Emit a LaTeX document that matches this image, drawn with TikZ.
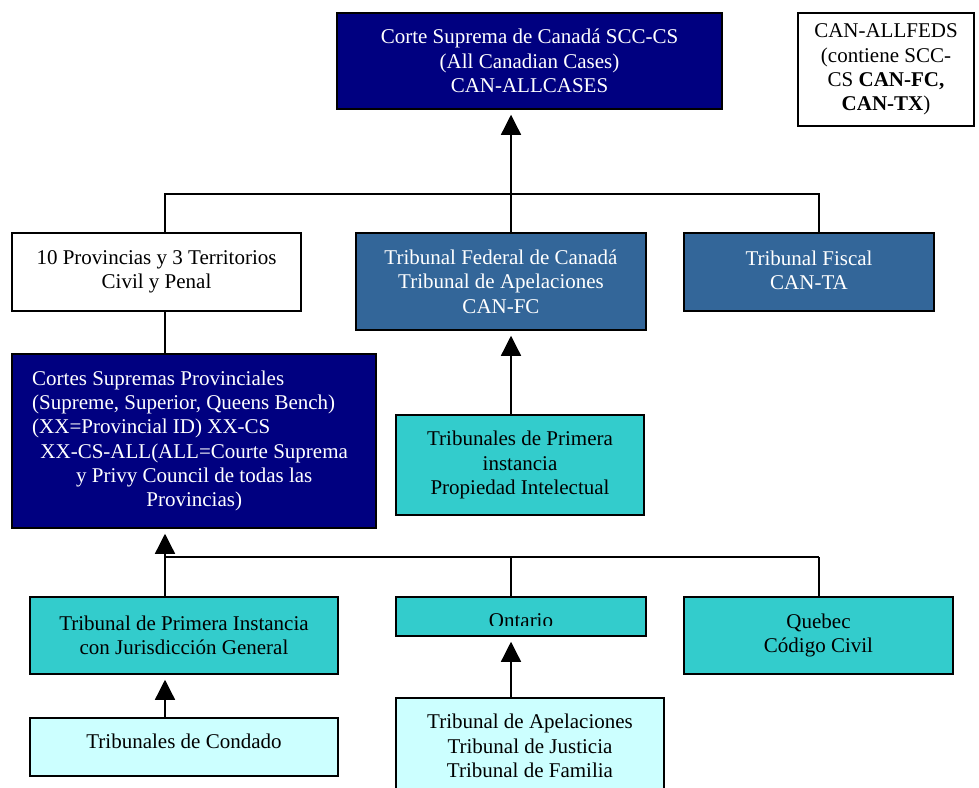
\documentclass[tikz,border=0pt]{standalone}
\usepackage{fontspec}
\setmainfont{Liberation Serif}
\usetikzlibrary{arrows.meta}
\definecolor{navyb}{HTML}{000080}
\definecolor{steelb}{HTML}{336699}
\definecolor{turq}{HTML}{33CCCC}
\definecolor{lcyan}{HTML}{CCFFFF}
\begin{document}
\begin{tikzpicture}[x=1pt,y=-1pt,
  boxst/.style={draw=black,line width=1.5pt,inner sep=0pt,align=center,
    font=\fontsize{21}{24.3}\selectfont},
  txtst/.style={inner sep=0pt,font=\fontsize{21}{24.3}\selectfont},
  conn/.style={line width=1.3pt},
  arr/.style={conn,-{Triangle[width=20pt,length=20pt]},shorten >=5pt}]
\useasboundingbox (0,0) rectangle (979,787);
\fill[white] (0,0) rectangle (979,787);
% boxes
\node[boxst,fill=navyb,text=white,minimum width=385pt,minimum height=96pt] (top) at (529.5,61)
  {Corte Suprema de Canadá SCC-CS\\(All Canadian Cases)\\CAN-ALLCASES};
\node[boxst,fill=white,minimum width=176pt,minimum height=113pt] (allfeds) at (886,69.5)
  {CAN-ALLFEDS\\(contiene SCC-\\CS \textbf{CAN-FC,}\\\textbf{CAN-TX})};
\node[boxst,fill=white,minimum width=289pt,minimum height=78pt] (prov) at (156.5,272)
  {10 Provincias y 3 Territorios\\Civil y Penal};
\node[boxst,fill=steelb,text=white,minimum width=290pt,minimum height=97pt] (tfed) at (501,281.5)
  {Tribunal Federal de Canadá\\Tribunal de Apelaciones\\CAN-FC};
\node[boxst,fill=steelb,text=white,minimum width=250pt,minimum height=78pt] (tfis) at (809,272)
  {\raisebox{2pt}[\height][\depth]{Tribunal Fiscal}\\\raisebox{2pt}[\height][\depth]{CAN-TA}};
\node[boxst,fill=navyb,minimum width=364pt,minimum height=174pt] (csp) at (194,441) {};
\node[txtst,text=white,align=left,anchor=west] (csptxt) at (32,441)
  {Cortes Supremas Provinciales\\(Supreme, Superior, Queens Bench)\\(XX=Provincial ID) XX-CS\\
   \makebox[324pt][c]{XX-CS-ALL(ALL=Courte Suprema}\\
   \makebox[324pt][c]{y Privy Council de todas las}\\
   \makebox[324pt][c]{Provincias)}};
\node[boxst,fill=turq,minimum width=248pt,minimum height=100pt] (tpi) at (520,465)
  {Tribunales de Primera\\instancia\\Propiedad Intelectual};
\node[boxst,fill=turq,minimum width=308pt,minimum height=77pt] (tpig) at (184,635.5)
  {Tribunal de Primera Instancia\\con Jurisdicción General};
\node[boxst,fill=turq,minimum width=250pt,minimum height=39pt] (ont) at (521,616.5) {};
\begin{scope}
  \clip (396,597) rectangle (646,625);
  \node[txtst,anchor=base] (onttxt) at (521,627) {Ontario};
\end{scope}
\node[boxst,fill=turq,minimum width=269pt,minimum height=77pt] (queb) at (818.5,635.5)
  {Quebec\\Código Civil};
\node[boxst,fill=lcyan,minimum width=308pt,minimum height=58pt] (cond) at (184,747)
  {\raisebox{6pt}[\height][\depth]{Tribunales de Condado}};
\node[boxst,fill=lcyan,minimum width=268pt,minimum height=96pt] (tapel) at (530,746)
  {Tribunal de Apelaciones\\Tribunal de Justicia\\Tribunal de Familia};
% helper coordinates
\coordinate (c165) at (165,0);
\coordinate (c511) at (511,0);
\coordinate (c819) at (819,0);
\coordinate (h1) at (0,194);
\coordinate (h2) at (0,557);
% connectors
\draw[arr] (c511 |- tfed.north) -- (c511 |- top.south);
\draw[conn] (c165 |- prov.north) -- (c165 |- h1) -- (c819 |- h1) -- (c819 |- tfis.north);
\draw[conn] (c165 |- prov.south) -- (c165 |- csp.north);
\draw[arr] (c511 |- tpi.north) -- (c511 |- tfed.south);
\draw[conn] (c165 |- h2) -- (c819 |- h2);
\draw[arr] (c165 |- tpig.north) -- (c165 |- csp.south);
\draw[conn] (c511 |- h2) -- (c511 |- ont.north);
\draw[conn] (c819 |- h2) -- (c819 |- queb.north);
\draw[arr] (c165 |- cond.north) -- (c165 |- tpig.south);
\draw[arr] (c511 |- tapel.north) -- (c511 |- ont.south);
\end{tikzpicture}
\end{document}
